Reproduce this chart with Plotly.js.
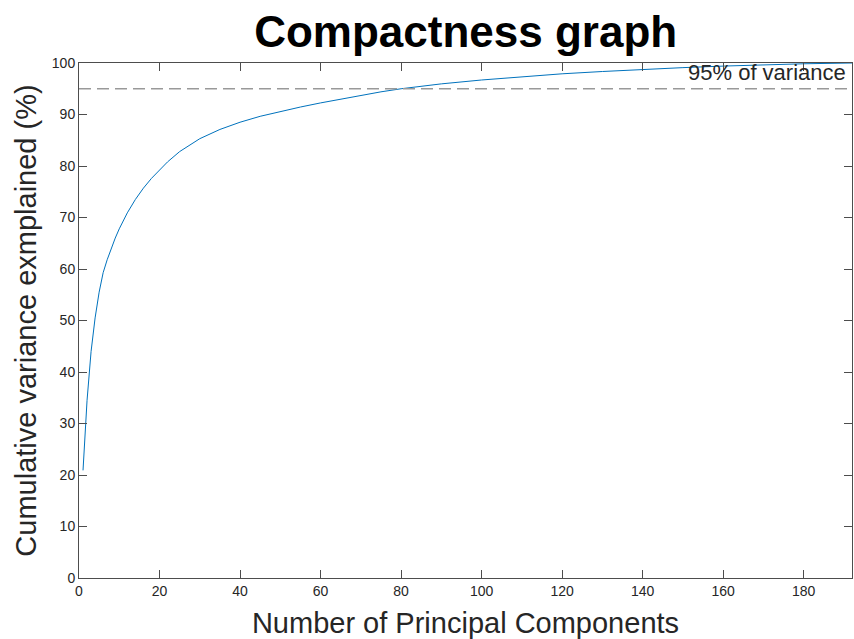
<!DOCTYPE html>
<html>
<head>
<meta charset="utf-8">
<script src="https://cdn.plot.ly/plotly-3.0.1.min.js"></script>
<style>html,body{margin:0;padding:0;background:#fff;}#chart{width:854px;height:639px;}</style>
</head>
<body>
<div id="chart"></div>
<script>
// Number of principal components
const components = [1,2,3,4,5,6,7,8,9,10,11,12,14,16,18,20,22,25,28,30,35,40,45,50,55,60,65,70,75,80,90,100,110,120,130,140,150,160,170,180,192];
// Cumulative variance explained (%)
const cumVariance = [20.9,34.5,44.0,50.5,55.5,59.3,61.8,64.0,66.0,67.8,69.4,70.9,73.5,75.7,77.6,79.3,80.8,82.8,84.4,85.3,87.1,88.5,89.65,90.6,91.45,92.25,93.0,93.7,94.4,95.0,95.95,96.7,97.35,97.9,98.35,98.75,99.1,99.4,99.65,99.85,100];
const thresholdValue = 95;
const thresholdLabel = "95% of variance";
const xTicks = [0,20,40,60,80,100,120,140,160,180];
const yTicks = [0,10,20,30,40,50,60,70,80,90,100];

const axisColor = '#4d4d4d';
const textColor = '#262626';
const fontFam = 'Liberation Sans, Arial, sans-serif';

const trace = {
  x: components, y: cumVariance, type: 'scatter', mode: 'lines',
  line: {color: '#0072BD', width: 1}, hoverinfo: 'x+y'
};

const layout = {
  width: 854, height: 639,
  margin: {l: 79, r: 2, t: 63, b: 61},
  paper_bgcolor: '#fff', plot_bgcolor: '#fff',
  showlegend: false,
  title: {text: '<b>Compactness graph</b>', font: {family: fontFam, size: 44, color: '#000'},
          x: 0.5453, xanchor: 'center', y: 0.975, yanchor: 'top'},
  xaxis: {
    range: [0, 192], tickvals: xTicks, ticktext: xTicks.map(String),
    ticks: 'inside', ticklen: 8, tickcolor: axisColor, tickwidth: 1,
    showline: true, linecolor: axisColor, linewidth: 1, mirror: 'ticks',
    showgrid: false, zeroline: false,
    tickfont: {family: fontFam, size: 14, color: textColor},
    title: {text: 'Number of Principal Components', font: {family: fontFam, size: 29, color: textColor}, standoff: 14}
  },
  yaxis: {
    range: [0, 100], tickvals: yTicks, ticktext: yTicks.map(String),
    ticks: 'inside', ticklen: 8, tickcolor: axisColor, tickwidth: 1,
    showline: true, linecolor: axisColor, linewidth: 1, mirror: 'ticks',
    showgrid: false, zeroline: false,
    tickfont: {family: fontFam, size: 14, color: textColor},
    title: {text: 'Cumulative variance exmplained (%)', font: {family: fontFam, size: 29, color: textColor}, standoff: 6}
  },
  shapes: [{
    type: 'line', xref: 'x', yref: 'y', x0: 0, x1: 192, y0: thresholdValue, y1: thresholdValue,
    line: {color: '#999999', width: 1.5, dash: '12px,6px'}
  }],
  annotations: [{
    x: 191, y: 98.1, xref: 'x', yref: 'y', xanchor: 'right', yanchor: 'middle',
    text: thresholdLabel, showarrow: false,
    font: {family: fontFam, size: 22, color: textColor}
  }]
};

Plotly.newPlot('chart', [trace], layout, {displayModeBar: false, staticPlot: true});
</script>
</body>
</html>
